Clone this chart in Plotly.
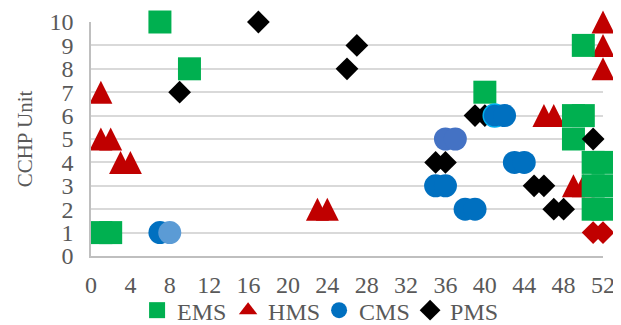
import plotly.graph_objects as go

# ---------------- data ----------------
x_ticks = list(range(0, 53, 4))
y_ticks = list(range(0, 11))

ems_x = [1, 2, 7, 10, 40, 49, 50, 49, 50, 51, 52, 51, 52, 51, 52]
ems_y = [1, 1, 10, 8, 7, 6, 6, 5, 9, 4, 4, 3, 3, 2, 2]

hms_x = [1, 1, 2, 3, 4, 23, 24, 46, 47, 49, 50, 52, 52, 52]
hms_y = [7, 5, 5, 4, 4, 2, 2, 6, 6, 3, 3, 10, 9, 8]

hms_diamond_x = [51, 52]
hms_diamond_y = [1, 1]

cms_x = [7, 8, 36, 37, 35, 36, 38, 39, 41, 42, 43, 44]
cms_y = [1, 1, 5, 5, 3, 3, 2, 2, 6, 6, 4, 4]

pms_x = [9, 17, 26, 27, 35, 36, 39, 40, 45, 46, 47, 48, 51]
pms_y = [7, 10, 8, 9, 4, 4, 6, 6, 3, 3, 2, 2, 5]

series_names = ["EMS", "HMS", "CMS", "PMS"]

# ---------------- style ----------------
GREEN = "#00B050"
RED = "#C00000"
BLUE = "#0070C0"
BLACK = "#000000"
cms_colors = ["#0070C0", "#5B9BD5", "#4472C4", "#4472C4", "#0070C0", "#0070C0",
              "#0070C0", "#0070C0", "#0070C0", "#0070C0", "#0070C0", "#0070C0"]
cms_line_colors = ["#0070C0", "#5B9BD5", "#4472C4", "#4472C4", "#0070C0", "#0070C0",
                   "#0070C0", "#0070C0", "#00B0F0", "#0070C0", "#0070C0", "#0070C0"]
cms_line_widths = [0, 0, 0, 0, 0, 0, 0, 0, 1.5, 0, 0, 0]

FONT = "Liberation Serif"
TXT = "#595959"
FS = 24

# the page body has an 8px margin, so the figure is sized/margined to put the
# plot area at the reference position inside the 621x325 window
W, H = 613, 317
ML, MR, MT, MB = 83, 18, 14, 69
SQ = 23
TRI = 23
CIR = 23
DIA = 17.5

fig = go.Figure()

# triangle: arrow-down rotated 180deg with standoff -> an upright triangle
# of width = height = TRI centred on the data point
fig.add_trace(go.Scatter(x=hms_x, y=hms_y, mode="markers", showlegend=False,
                         cliponaxis=False,
                         marker=dict(symbol="arrow-down", angle=180,
                                     standoff=TRI / 2, size=TRI, color=RED,
                                     line=dict(width=0))))
fig.add_trace(go.Scatter(x=ems_x, y=ems_y, mode="markers", showlegend=False,
                         cliponaxis=False,
                         marker=dict(symbol="square", size=SQ, color=GREEN,
                                     line=dict(width=0))))
fig.add_trace(go.Scatter(x=hms_diamond_x, y=hms_diamond_y, mode="markers",
                         showlegend=False, cliponaxis=False,
                         marker=dict(symbol="diamond", size=DIA, color=RED,
                                     line=dict(width=0))))
fig.add_trace(go.Scatter(x=pms_x, y=pms_y, mode="markers", showlegend=False,
                         cliponaxis=False,
                         marker=dict(symbol="diamond", size=DIA, color=BLACK,
                                     line=dict(width=0))))
fig.add_trace(go.Scatter(x=cms_x, y=cms_y, mode="markers", showlegend=False,
                         cliponaxis=False,
                         marker=dict(symbol="circle", size=CIR, color=cms_colors,
                                     line=dict(width=cms_line_widths,
                                               color=cms_line_colors))))

# legend-only entries
leg_symbols = ["square", "triangle-up", "circle", "diamond"]
leg_colors = [GREEN, RED, BLUE, BLACK]
for name, sym, col in zip(series_names, leg_symbols, leg_colors):
    fig.add_trace(go.Scatter(x=[None], y=[None], mode="markers", name=name,
                             marker=dict(symbol=sym, size=16, color=col,
                                         line=dict(width=0))))

fig.update_layout(
    width=W, height=H,
    margin=dict(l=ML, r=MR, t=MT, b=MB, pad=0, autoexpand=False),
    paper_bgcolor="white", plot_bgcolor="white",
    font=dict(family=FONT, size=FS, color=TXT),
    xaxis=dict(range=[0, 52], tickvals=x_ticks, ticktext=[str(v) for v in x_ticks],
               showgrid=False, zeroline=False, showline=True, automargin=False,
               linecolor="#BFBFBF", linewidth=1.5, ticks="",
               ticklabelstandoff=6,
               tickfont=dict(family=FONT, size=FS, color=TXT)),
    yaxis=dict(range=[0, 10], tickvals=y_ticks, showgrid=True, automargin=False,
               gridcolor="#D9D9D9", gridwidth=1.5, zeroline=False,
               showline=True, linecolor="#BFBFBF", linewidth=1.5, ticks="",
               ticklabelstandoff=11,
               tickfont=dict(family=FONT, size=FS, color=TXT),
               title=dict(text="CCHP Unit", standoff=11,
                          font=dict(family=FONT, size=21, color=TXT))),
    legend=dict(orientation="h", x=0.09, xanchor="left", y=-0.137, yanchor="top",
                font=dict(family=FONT, size=FS, color=TXT),
                entrywidth=46, entrywidthmode="pixels",
                bgcolor="rgba(0,0,0,0)", traceorder="normal"),
    showlegend=True,
)

fig.write_html("out.html")
